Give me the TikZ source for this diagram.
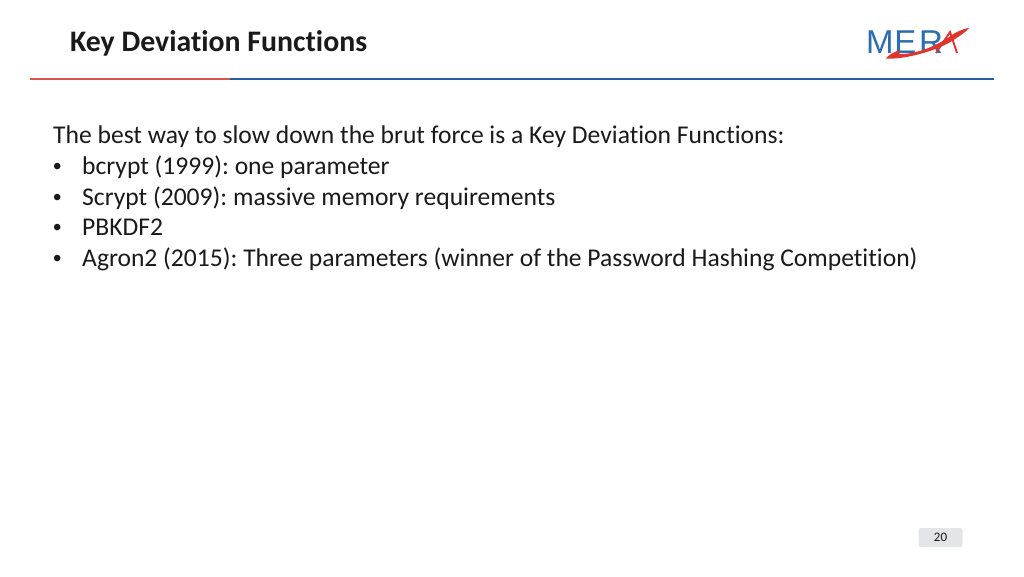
\documentclass[tikz,border=0pt]{standalone}
\usepackage{fontspec}
\setmainfont[Ligatures=NoCommon]{Carlito}
\newfontfamily\logofont{Liberation Sans}
\definecolor{ruleblue}{HTML}{2A5CA0}
\definecolor{rulered}{HTML}{D9534F}
\definecolor{logoblue}{HTML}{2A6DB0}
\definecolor{logored}{HTML}{E0342F}
\definecolor{inktext}{HTML}{1A1A1A}
\definecolor{pagebox}{HTML}{E3E6E6}
\frenchspacing
\tikzset{
  bodytext/.style={anchor=base west,inner sep=0pt,text=inktext,font=\fontsize{25.58}{25.58}\selectfont},
  bullettext/.style={anchor=base west,inner sep=0pt,text=inktext,font=\logofont\fontsize{24}{24}\selectfont},
  titletext/.style={anchor=base west,inner sep=0pt,text=inktext,font=\bfseries\fontsize{29.8}{29.8}\selectfont},
  rulebar/.style={line width=2.4pt},
  logotext/.style={anchor=base west,inner sep=0pt,text=logoblue,font=\logofont\fontsize{33}{33}\selectfont},
  pagenum/.style={rounded corners=2pt,fill=pagebox,minimum width=44pt,minimum height=19pt,inner sep=0pt,text=inktext,font=\fontsize{13}{13}\selectfont}
}
\begin{document}
\begin{tikzpicture}[x=1pt,y=-1pt]
\useasboundingbox (0,0) rectangle (1024,576);
\fill[white] (0,0) rectangle (1024,576);
\node[titletext] (title) at (70,51) {Key Deviation Functions};
\draw[rulebar,ruleblue] (230,79) -- (994,79);
\draw[rulebar,rulered] (30,79) -- (230,79);
\node[logotext] (mer) at (866,53.5) {M\hspace{0.8pt}E\hspace{2.5pt}R};
\fill[logored] (886,58.5) .. controls (888,55) and (894,52) .. (900,50) .. controls (898,52.5) and (898,54) .. (902,54) .. controls (918,53.5) and (936,46) .. (949,37) .. controls (954,33) and (962,29) .. (969,28) .. controls (966,32) and (958,37) .. (952,41) .. controls (938,50) and (905,60) .. (886,58.5) -- cycle;
\draw[logored,line width=1.9pt] (936,53) -- (950,32) -- (957,53);
\node[bodytext] (intro) at (53,143.6) {The best way to slow down the brut force is a Key Deviation Functions:};
\node[bullettext] (b1) at (53,174.4) {•};
\node[bodytext] (t1) at (82,174.4) {bcrypt (1999): one parameter};
\node[bullettext] (b2) at (53,205) {•};
\node[bodytext] (t2) at (82,205) {Scrypt (2009): massive memory requirements};
\node[bullettext] (b3) at (53,235.7) {•};
\node[bodytext] (t3) at (82,235.7) {PBKDF2};
\node[bullettext] (b4) at (53,266.4) {•};
\node[bodytext] (t4) at (82,266.4) {Agron2 (2015): Three parameters (winner of the Password Hashing Competition)};
\node[pagenum] (page) at (940.5,537.5) {20};
\end{tikzpicture}
\end{document}
